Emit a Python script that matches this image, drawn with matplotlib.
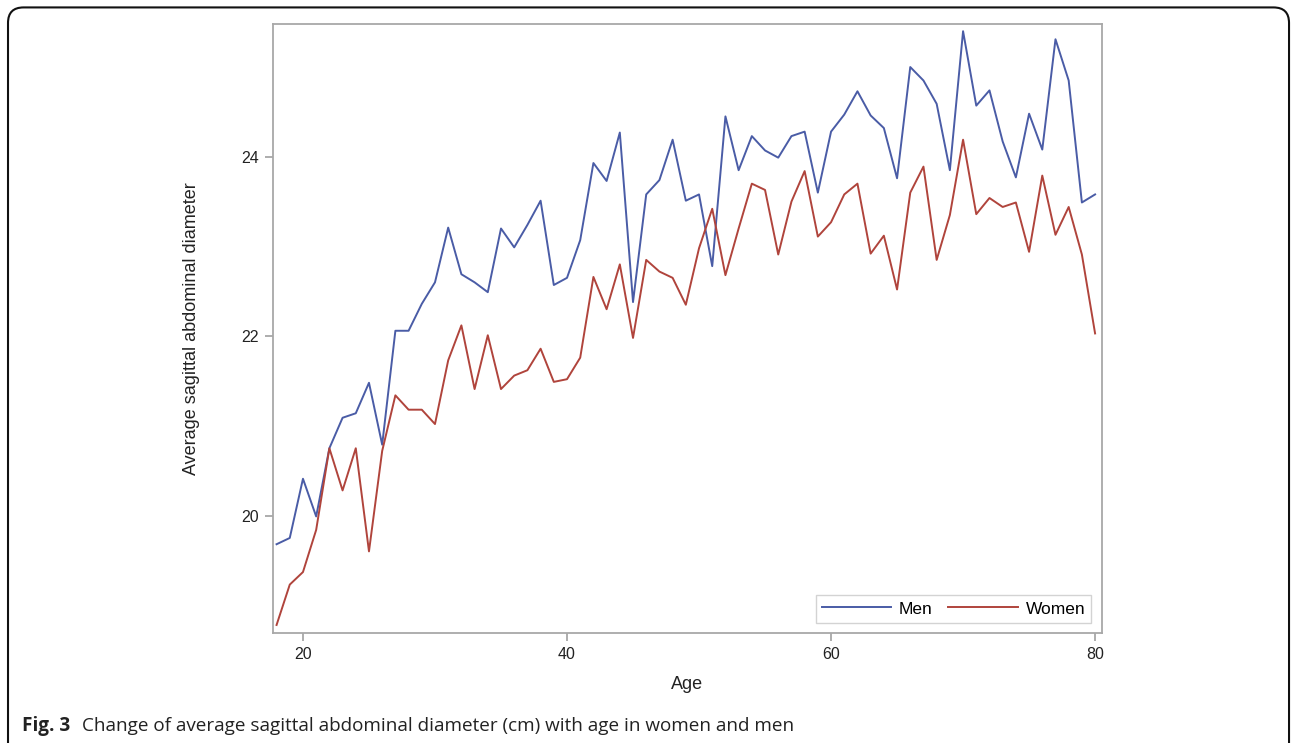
import matplotlib
matplotlib.use("Agg")
import matplotlib.pyplot as plt
from matplotlib.patches import FancyBboxPatch
import numpy as np

ages = list(range(18, 81))
men = [19.68, 19.75, 20.41, 19.99, 20.75, 21.09, 21.14, 21.48, 20.79, 22.06,
       22.06, 22.36, 22.60, 23.21, 22.69, 22.60, 22.49, 23.20, 22.99, 23.24,
       23.51, 22.57, 22.65, 23.07, 23.93, 23.73, 24.27, 22.38, 23.58, 23.74,
       24.19, 23.51, 23.58, 22.78, 24.45, 23.85, 24.23, 24.07, 23.99, 24.23,
       24.28, 23.60, 24.28, 24.47, 24.73, 24.46, 24.32, 23.76, 25.00, 24.85,
       24.59, 23.85, 25.40, 24.57, 24.74, 24.17, 23.77, 24.48, 24.08, 25.31,
       24.85, 23.49, 23.58]
women = [18.78, 19.23, 19.37, 19.84, 20.75, 20.28, 20.75, 19.60, 20.72, 21.34,
         21.18, 21.18, 21.02, 21.73, 22.12, 21.41, 22.01, 21.41, 21.56, 21.62,
         21.86, 21.49, 21.52, 21.76, 22.66, 22.30, 22.80, 21.98, 22.85, 22.72,
         22.65, 22.35, 22.98, 23.42, 22.68, 23.20, 23.70, 23.63, 22.91, 23.50,
         23.84, 23.11, 23.27, 23.58, 23.70, 22.92, 23.12, 22.52, 23.60, 23.89,
         22.85, 23.35, 24.19, 23.36, 23.54, 23.44, 23.49, 22.94, 23.79, 23.13,
         23.44, 22.91, 22.03]
xticks = [20, 40, 60, 80]
yticks = [20, 22, 24]

plt.rcParams['font.family'] = ['Liberation Sans', 'DejaVu Sans']

fig = plt.figure(figsize=(12.92, 7.43), dpi=100)
ax = fig.add_axes([0.2113, 0.148, 0.6414, 0.8197])

ax.plot(ages, men, color='#4a5ca6', lw=1.4, label='Men')
ax.plot(ages, women, color='#b0443c', lw=1.4, label='Women')

ax.set_xlim(17.73, 80.5)
ax.set_ylim(18.69, 25.48)
ax.set_xticks(xticks)
ax.set_yticks(yticks)
ax.tick_params(colors='#a0a0a0', labelcolor='#222222', labelsize=11.5, length=6, width=1.2, pad=4)
for s in ax.spines.values():
    s.set_color('#a8a8a8')
    s.set_linewidth(1.3)

ax.set_xlabel('Age', fontsize=13, color='#222222', labelpad=10)
ax.set_ylabel('Average sagittal abdominal diameter', fontsize=13, color='#222222', labelpad=30)

leg = ax.legend(loc='lower right', ncol=2, frameon=True, fancybox=False, fontsize=12.5,
                handlelength=4.0, columnspacing=0.9, handletextpad=0.45,
                borderaxespad=0.6, borderpad=0.35)
leg.get_frame().set_edgecolor('#c8c8c8')
leg.get_frame().set_linewidth(1.0)

# outer rounded border
box = FancyBboxPatch((0.0062, -0.05), 0.9915, 1.04, boxstyle='round,pad=0,rounding_size=0.012',
                     transform=fig.transFigure, fill=False, edgecolor='#111111', lw=1.5,
                     clip_on=False, mutation_aspect=1292/743)
fig.patches.append(box)

fig.text(0.017, 0.016, 'Fig. 3', fontsize=13.6, fontweight='bold', family=['Open Sans', 'DejaVu Sans'],
         color='#222222', va='baseline')
fig.text(0.0635, 0.016, 'Change of average sagittal abdominal diameter (cm) with age in women and men',
         fontsize=13.6, family=['Open Sans', 'DejaVu Sans'], color='#222222', va='baseline')

fig.savefig('out.png', dpi=100)
